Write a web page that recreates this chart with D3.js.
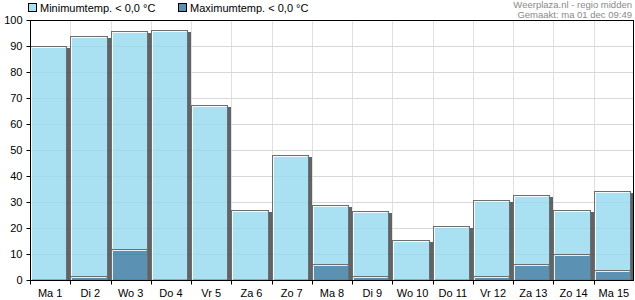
<!DOCTYPE html>
<html><head><meta charset="utf-8">
<script src="https://cdn.jsdelivr.net/npm/d3@7"></script>
<style>body{margin:0;background:#fff}svg{display:block;font-family:"Liberation Sans",Arial,sans-serif}</style>
</head><body><div id="c"></div>
<script>
const categories = ["Ma 1","Di 2","Wo 3","Do 4","Vr 5","Za 6","Zo 7","Ma 8","Di 9","Wo 10","Do 11","Vr 12","Za 13","Zo 14","Ma 15"];
const minValues = [90, 93.8, 95.8, 96, 67.2, 26.8, 48, 28.7, 26.7, 15.2, 20.9, 30.6, 32.6, 26.8, 34.4];
const maxValues = [0, 1.6, 11.9, 0, 0, 0, 0, 6, 1.6, 0, 0, 1.6, 6, 9.9, 3.7];
const yTicks = [0,10,20,30,40,50,60,70,80,90,100];
const seriesNames = ["Minimumtemp. < 0,0 °C","Maximumtemp. < 0,0 °C"];
const seriesColors = ["#a9e1f2","#5b91b3"];

const W=635,H=300, L=30, R=634, T=20, B=280;
const svg=d3.select("#c").append("svg").attr("width",W).attr("height",H);
const x=d3.scaleBand().domain(categories).range([L,R]).padding(0);
const y=d3.scaleLinear().domain([0,100]).range([B,T]);

// grid
const g=svg.append("g");
g.selectAll(".hg").data(yTicks).join("line").attr("x1",L).attr("x2",R).attr("y1",d=>Math.round(y(d))+0.5).attr("y2",d=>Math.round(y(d))+0.5).attr("stroke","#e0e0e0");
g.selectAll(".vg").data(categories.slice(1)).join("line").attr("x1",d=>Math.round(x(d))+0.5).attr("x2",d=>Math.round(x(d))+0.5).attr("y1",T).attr("y2",B).attr("stroke","#e0e0e0");

function drawBars(vals,color){
  const bw=x.bandwidth();
  const gg=svg.append("g");
  categories.forEach((c,i)=>{
    const v=vals[i]; if(v<=0) return;
    const x0=Math.round(x(c)), x1=Math.round(x(c)+bw)-1, y0=Math.round(y(v)), y1=B;
    gg.append("rect").attr("x",x1-2).attr("y",y0+2).attr("width",3).attr("height",Math.max(0,y1-y0-2)).attr("fill","#5e6468");
    gg.append("rect").attr("x",x0+0.5).attr("y",y0+0.5).attr("width",x1-x0-3).attr("height",y1-y0-0.5).attr("fill",color).attr("stroke","#6e6e6e");
    gg.append("path").attr("d",`M${x0+1.5},${y1}V${y0+1.5}H${x1-3.5}`).attr("fill","none").attr("stroke","#ffffff").attr("stroke-opacity",0.85);
  });
}
drawBars(minValues,seriesColors[0]);
drawBars(maxValues,seriesColors[1]);

svg.append("g").selectAll("line").data(yTicks.slice(1,-1)).join("line").attr("x1",L).attr("x2",R).attr("y1",d=>Math.round(y(d))+0.5).attr("y2",d=>Math.round(y(d))+0.5).attr("stroke","#000").attr("stroke-opacity",0.035);

svg.append("rect").attr("x",L+0.5).attr("y",T+0.5).attr("width",R-L-1).attr("height",B-T).attr("fill","none").attr("stroke","#000");

const ya=svg.append("g").attr("transform",`translate(${L+0.5},0)`).call(d3.axisLeft(y).tickValues(yTicks).tickSize(4).tickSizeOuter(0));
ya.select(".domain").remove();
ya.selectAll("text").attr("font-size",11).attr("fill","#000").attr("dx",-1);
ya.selectAll("line").attr("stroke","#000");
const xa=svg.append("g").attr("transform",`translate(0,${B+0.5})`);
xa.selectAll("line").data(categories).join("line").attr("x1",d=>Math.round(x(d))+0.5).attr("x2",d=>Math.round(x(d))+0.5).attr("y1",0).attr("y2",4).attr("stroke","#000");
xa.selectAll("text").data(categories).join("text").attr("x",d=>x(d)+x.bandwidth()/2).attr("y",16).attr("text-anchor","middle").attr("font-size",11).text(d=>d);
svg.append("line").attr("x1",L).attr("x2",R).attr("y1",B+0.5).attr("y2",B+0.5).attr("stroke","#000");

const lg=svg.append("g");
[[28,0],[178,1]].forEach(([lx,i])=>{
  lg.append("rect").attr("x",lx+0.5).attr("y",3.5).attr("width",8).attr("height",8).attr("fill",seriesColors[i]).attr("stroke","#000");
  lg.append("text").attr("x",lx+12).attr("y",12).attr("font-size",11).text(seriesNames[i]);
});
svg.append("text").attr("x",632).attr("y",8).attr("text-anchor","end").attr("font-size",9.5).attr("fill","#8a8a8a").text("Weerplaza.nl - regio midden");
svg.append("text").attr("x",632).attr("y",18).attr("text-anchor","end").attr("font-size",9.5).attr("fill","#8a8a8a").text("Gemaakt: ma 01 dec 09:49");
</script></body></html>
